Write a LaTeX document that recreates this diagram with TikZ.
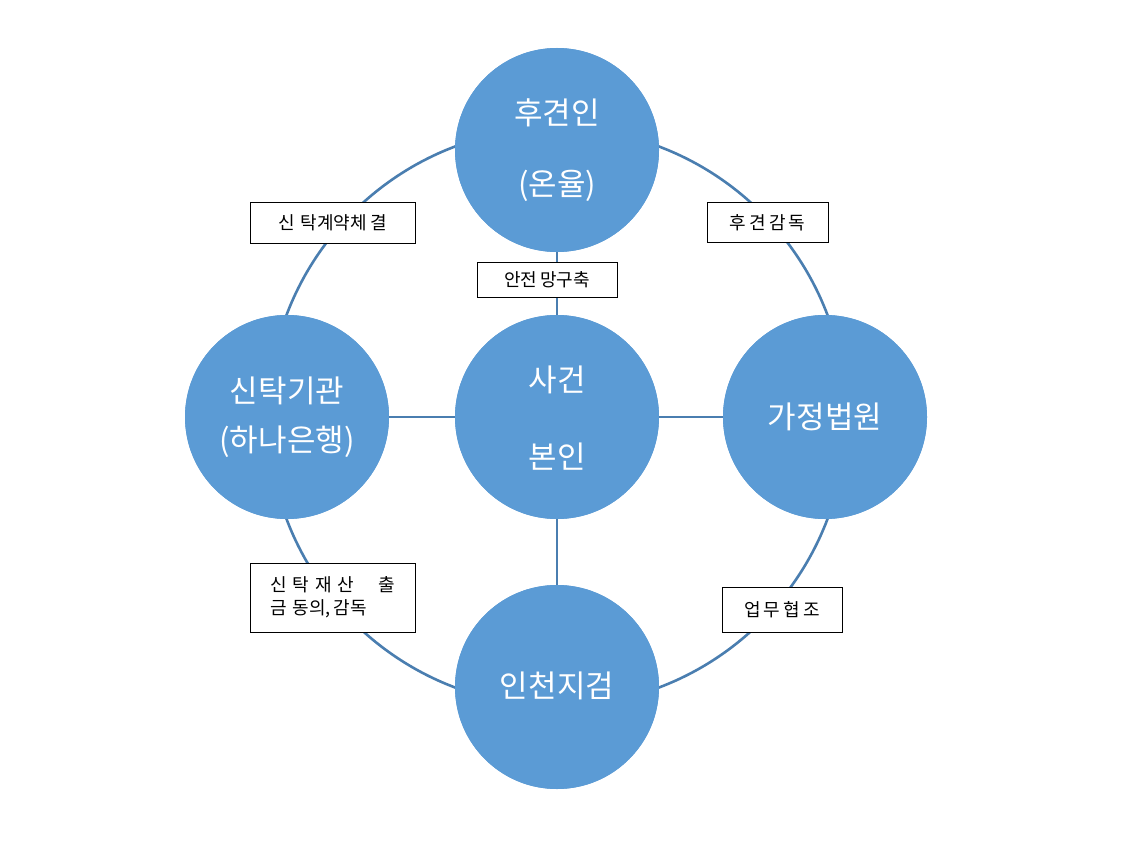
\documentclass[tikz,border=0pt]{standalone}
\usepackage{fontspec}
\setmainfont{Noto Sans CJK KR}
\begin{document}
\begin{tikzpicture}[x=1pt,y=-1pt,
  conn/.style={draw=linec, line width=2.6pt},
  bubble/.style={circle, fill=bubblec, draw=none, minimum size=204pt, inner sep=0pt},
  ctext/.style={text=white, font=\fontsize{31}{34}\selectfont},
  tag/.style={draw=black, fill=white, line width=1pt, inner sep=0pt, font=\fontsize{18}{23}\selectfont, align=left}]
\definecolor{bubblec}{HTML}{5B9BD5}
\definecolor{linec}{HTML}{4A7EB0}
\useasboundingbox (0,0) rectangle (1140,845);
\fill[white] (0,0) rectangle (1140,845);
% ring
\coordinate (ringc) at (557,417);
\draw[conn] (ringc) circle[radius=289pt];
% circles
\node[bubble] (top) at (557,150) {};
\node[bubble] (left) at (287,417) {};
\node[bubble] (mid) at (557,417) {};
\node[bubble] (right) at (825,417) {};
\node[bubble] (bot) at (557,687) {};
% spokes
\draw[conn] (mid) -- (top);
\draw[conn] (mid) -- (left);
\draw[conn] (mid) -- (right);
\draw[conn] (mid) -- (bot);
% redraw circles on top of spokes
\node[bubble] at (557,150) {};
\node[bubble] at (287,417) {};
\node[bubble] at (557,417) {};
\node[bubble] at (825,417) {};
\node[bubble] at (557,687) {};
% circle texts
\node[ctext] (t1) at (557,113) {후견인};
\node[ctext] (t2) at (557,186) {(온율)};
\node[ctext] (l1) at (287,391) {신탁기관};
\node[ctext] (l2) at (287,442) {(하나은행)};
\node[ctext] (m1) at (557,380) {사건};
\node[ctext] (m2) at (557,457) {본인};
\node[ctext] (r1) at (825,417) {가정법원};
\node[ctext] (b1) at (557,686) {인천지검};
% label boxes
\node[tag, minimum width=165pt, minimum height=40pt] (k1) at (332.5,223) {신\,\,탁계약체\,결};
\node[tag, minimum width=121pt, minimum height=39pt] (k2) at (767.5,222.5) {후\,견\,감\,독};
\node[tag, minimum width=140pt, minimum height=35pt] (k3) at (547,279.5) {안전\,망구축};
\node[tag, minimum width=165pt, minimum height=69pt] (k4) at (332.5,597.5) {신\,\,탁\,\,재\,\,산\quad\,\,출\\금\,\,동의,\,감독};
\node[tag, minimum width=120pt, minimum height=45pt] (k5) at (782,609.5) {업\,무\,협\,조};
\end{tikzpicture}
\end{document}
